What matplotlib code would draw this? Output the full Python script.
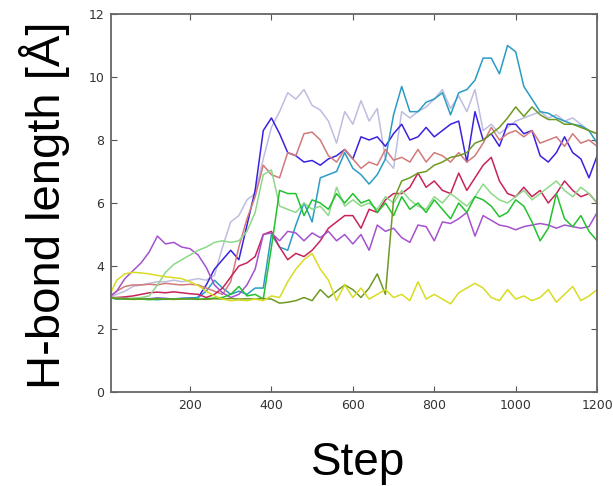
import numpy as np
import matplotlib
matplotlib.use('Agg')
import matplotlib.pyplot as plt

steps = np.arange(0, 1201, 20)

lavender = [3.0, 3.1, 3.2, 3.35, 3.4, 3.45, 3.5, 3.5, 3.55, 3.5,
            3.55, 3.6, 3.55, 3.7, 4.6, 5.4, 5.6, 6.1, 6.3, 7.4,
            8.4, 8.9, 9.5, 9.3, 9.6, 9.1, 8.95, 8.6, 7.9, 8.9,
            8.5, 9.25, 8.6, 9.0, 7.4, 7.1, 8.9, 8.7, 8.9, 9.05,
            9.3, 9.6, 9.0, 9.4, 8.9, 9.6, 8.3, 8.5, 8.2, 8.4,
            8.6, 8.7, 8.8, 8.9, 8.7, 8.8, 8.6, 8.7, 8.5, 8.3,
            8.2]
blue = [3.0, 2.97, 2.98, 2.95, 2.97, 2.96, 2.98, 2.97, 2.95, 2.97,
        2.98, 3.0, 3.4, 3.9, 4.2, 4.5, 4.2, 5.3, 6.4, 8.3,
        8.7, 8.2, 7.6, 7.5, 7.3, 7.35, 7.2, 7.4, 7.5, 7.7,
        7.4, 8.1, 8.0, 8.1, 7.8, 8.2, 8.5, 8.0, 8.1, 8.4,
        8.1, 8.3, 8.5, 8.6, 7.3, 8.9, 8.0, 8.2, 7.8, 8.5,
        8.5, 8.2, 8.3, 7.5, 7.3, 7.6, 8.1, 7.6, 7.4, 6.8,
        7.5]
teal = [3.0, 2.95, 2.97, 2.95, 2.96, 2.95, 2.93, 2.95, 2.96, 2.97,
        2.98, 3.0, 3.2, 3.55, 3.3, 3.1, 3.2, 3.1, 3.3, 3.3,
        5.0, 4.6, 4.5, 5.3, 6.0, 5.4, 6.8, 6.9, 7.0, 7.6,
        7.1, 6.9, 6.6, 6.9, 7.4, 8.8, 9.7, 8.9, 8.9, 9.2,
        9.3, 9.5, 8.8, 9.5, 9.6, 9.9, 10.6, 10.6, 10.1, 11.0,
        10.8, 9.7, 9.3, 8.9, 8.85, 8.7, 8.6, 8.5, 8.45, 8.3,
        7.9]
rosy = [3.0, 3.2, 3.35, 3.4, 3.4, 3.42, 3.4, 3.45, 3.42, 3.4,
        3.42, 3.4, 3.3, 3.2, 3.1, 3.5, 4.6, 5.5, 6.2, 7.2,
        6.9, 6.8, 7.6, 7.5, 8.2, 8.25, 8.0, 7.5, 7.3, 7.7,
        7.4, 7.1, 7.3, 7.2, 7.7, 7.36, 7.45, 7.3, 7.7, 7.3,
        7.6, 7.5, 7.3, 7.6, 7.3, 7.5, 7.9, 8.4, 8.0, 8.2,
        8.3, 8.1, 8.3, 7.9, 8.0, 8.1, 7.8, 8.2, 7.9, 8.0,
        7.8]
crimson = [3.0, 3.0, 3.02, 3.05, 3.1, 3.15, 3.17, 3.15, 3.18, 3.15,
           3.12, 3.1, 3.0, 3.1, 3.3, 3.65, 4.0, 4.1, 4.3, 5.0,
           5.1, 4.6, 4.2, 4.4, 4.3, 4.5, 4.8, 5.2, 5.4, 5.6,
           5.6, 5.2, 5.8, 5.7, 6.1, 6.3, 6.3, 6.5, 6.95, 6.5,
           6.7, 6.4, 6.3, 6.95, 6.4, 6.8, 7.2, 7.45, 6.7, 6.3,
           6.2, 6.5, 6.2, 6.4, 6.0, 6.3, 6.7, 6.4, 6.2, 6.3,
           6.0]
purple = [3.0, 3.2, 3.6, 3.85, 4.1, 4.45, 4.95, 4.7, 4.75, 4.6,
          4.55, 4.35, 3.95, 3.4, 3.15, 3.0, 3.1, 3.4, 3.9, 5.0,
          5.05, 4.8, 5.1, 5.05, 4.8, 5.05, 4.9, 5.1, 4.8, 5.0,
          4.7, 5.0, 4.5, 5.3, 5.1, 5.2, 4.9, 4.75, 5.3, 5.25,
          4.8, 5.4, 5.35, 5.5, 5.7, 4.95, 5.6, 5.45, 5.3, 5.25,
          5.15, 5.25, 5.3, 5.35, 5.3, 5.2, 5.3, 5.25, 5.2, 5.25,
          5.7]
lightgreen = [3.0, 2.98, 2.97, 2.98, 3.0, 3.05, 3.4, 3.8, 4.05, 4.2,
              4.35, 4.5, 4.6, 4.75, 4.8, 4.75, 4.8, 5.1, 5.7, 6.9,
              7.05, 5.9, 5.8, 5.7, 6.0, 5.8, 5.9, 5.6, 6.5, 5.9,
              6.1, 5.9, 6.0, 5.8, 6.2, 6.0, 6.4, 6.1, 5.9, 5.8,
              6.2, 6.0, 6.3, 6.1, 5.9, 6.2, 6.6, 6.3, 6.1, 6.0,
              6.2, 6.4, 6.1, 6.3, 6.5, 6.7, 6.4, 6.2, 6.5, 6.3,
              6.0]
green = [3.0, 2.96, 2.95, 2.94, 2.95, 2.93, 2.95, 2.94, 2.95, 2.96,
         2.95, 2.94, 2.96, 2.98, 3.0, 3.1, 3.35, 3.05, 3.1, 2.95,
         4.6, 6.4, 6.3, 6.3, 5.6, 6.1, 6.0, 5.8, 6.3, 6.0,
         6.3, 6.0, 6.1, 5.7, 6.0, 5.6, 6.2, 5.8, 6.0, 5.7,
         6.1, 5.8, 5.5, 6.0, 5.7, 6.2, 6.1, 5.9, 5.56, 5.7,
         6.1, 5.9, 5.4, 4.8, 5.2, 6.3, 5.5, 5.25, 5.6, 5.1,
         4.8]
olive = [3.0, 2.97, 2.96, 2.95, 2.96, 2.95, 2.97, 2.95, 2.94, 2.95,
         2.96, 2.95, 2.94, 2.96, 2.95, 2.97, 2.95, 2.96, 2.95, 2.97,
         2.95, 2.82, 2.85, 2.9, 3.0, 2.9, 3.25, 3.0, 3.2, 3.4,
         3.25, 3.0, 3.3, 3.75, 3.1, 6.1, 6.7, 6.8, 6.95, 7.0,
         7.2, 7.3, 7.45, 7.5, 7.6, 7.9, 8.0, 8.2, 8.4, 8.7,
         9.05, 8.75, 9.05, 8.8, 8.65, 8.65, 8.5, 8.5, 8.4, 8.3,
         8.2]
yellow = [3.0, 3.55, 3.75, 3.8, 3.78, 3.75, 3.7, 3.66, 3.63, 3.6,
          3.5, 3.38, 3.2, 3.05, 2.95, 2.9, 2.92, 2.9, 2.95, 2.9,
          3.05, 3.0, 3.5, 3.9, 4.2, 4.4, 3.9, 3.55, 2.9, 3.4,
          3.0, 3.3, 2.95, 3.1, 3.25, 3.0, 3.1, 2.9, 3.5, 2.95,
          3.1, 2.95, 2.8, 3.15, 3.3, 3.45, 3.3, 3.0, 2.9, 3.25,
          2.95, 3.05, 2.9, 3.0, 3.25, 2.85, 3.1, 3.35, 2.9, 3.05,
          3.25]

series = [
    (lavender, '#bdbde0'),
    (blue, '#3a22e0'),
    (teal, '#2a9cc4'),
    (rosy, '#d27a7a'),
    (crimson, '#c8245a'),
    (purple, '#a552cf'),
    (lightgreen, '#8ed88a'),
    (green, '#22c22e'),
    (olive, '#6e9a22'),
    (yellow, '#d8dc22'),
]

### 2. Plot
fig = plt.figure(figsize=(6.13, 4.86), dpi=100)
ax = fig.add_axes([0.1811, 0.1934, 0.793, 0.7778])

for vals, col in series:
    ax.plot(steps, vals, '-', color=col, lw=1.1)

ax.set_xlim(6, 1200)
ax.set_ylim(0, 12)
ax.set_xticks([200, 400, 600, 800, 1000, 1200])
ax.set_yticks([0, 2, 4, 6, 8, 10, 12])
ax.tick_params(direction='in', top=True, right=True, length=4, width=0.8,
               color='#555555', labelcolor='#333333', labelsize=9, pad=5)
for sp in ax.spines.values():
    sp.set_color('#666666')
    sp.set_linewidth(1.3)

fig.text(45 / 613, 1 - 205 / 486, u'H-bond length [\u00c5]', rotation=90,
         ha='center', va='center', fontsize=34, family='Liberation Sans')
fig.text(358 / 613, 1 - 475 / 486, 'Step', ha='center', va='baseline',
         fontsize=33, family='Liberation Sans')

fig.savefig('out.png', dpi=100)
